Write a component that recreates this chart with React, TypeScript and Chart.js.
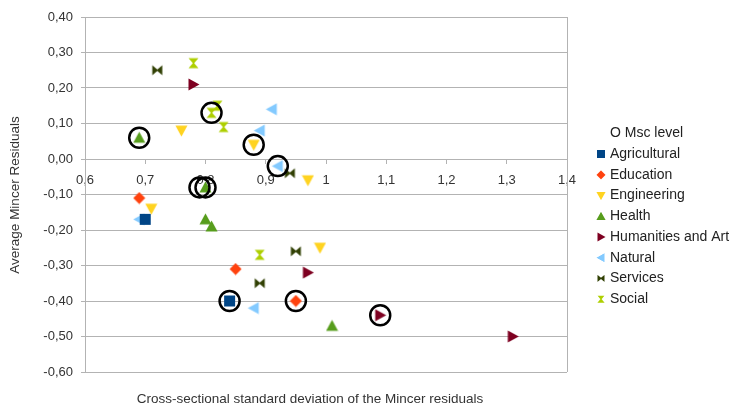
import React, { useEffect, useRef } from "react";
import { Chart, registerables } from "chart.js";

Chart.register(...registerables);

type P = { x: number; y: number };

const seriesNames = [
  "Agricultural",
  "Education",
  "Engineering",
  "Health",
  "Humanities and Art",
  "Natural",
  "Services",
  "Social",
];
const mscLabel = "O Msc level";

const agricultural: P[] = [
  { x: 0.7, y: -0.17 },
  { x: 0.84, y: -0.4 },
];
const education: P[] = [
  { x: 0.69, y: -0.11 },
  { x: 0.85, y: -0.31 },
  { x: 0.95, y: -0.4 },
];
const engineering: P[] = [
  { x: 0.76, y: 0.08 },
  { x: 0.71, y: -0.14 },
  { x: 0.88, y: 0.04 },
  { x: 0.97, y: -0.06 },
  { x: 0.99, y: -0.25 },
];
const health: P[] = [
  { x: 0.69, y: 0.06 },
  { x: 0.8, y: -0.08 },
  { x: 0.8, y: -0.17 },
  { x: 0.81, y: -0.19 },
  { x: 1.01, y: -0.47 },
];
const humanities: P[] = [
  { x: 0.78, y: 0.21 },
  { x: 0.97, y: -0.32 },
  { x: 1.09, y: -0.44 },
  { x: 1.31, y: -0.5 },
];
const natural: P[] = [
  { x: 0.91, y: 0.14 },
  { x: 0.89, y: 0.08 },
  { x: 0.92, y: -0.02 },
  { x: 0.69, y: -0.17 },
  { x: 0.88, y: -0.42 },
];
const services: P[] = [
  { x: 0.72, y: 0.25 },
  { x: 0.94, y: -0.04 },
  { x: 0.95, y: -0.26 },
  { x: 0.89, y: -0.35 },
];
const social: P[] = [
  { x: 0.78, y: 0.27 },
  { x: 0.82, y: 0.15 },
  { x: 0.81, y: 0.13 },
  { x: 0.83, y: 0.09 },
  { x: 0.89, y: -0.27 },
];
const mscLevel: P[] = [
  { x: 0.69, y: 0.06 },
  { x: 0.81, y: 0.13 },
  { x: 0.88, y: 0.04 },
  { x: 0.92, y: -0.02 },
  { x: 0.79, y: -0.08 },
  { x: 0.8, y: -0.08 },
  { x: 0.84, y: -0.4 },
  { x: 0.95, y: -0.4 },
  { x: 1.09, y: -0.44 },
];

const seriesData = [agricultural, education, engineering, health, humanities, natural, services, social];
const seriesColors = ["#004586", "#ff420e", "#ffd320", "#579d1c", "#7e0021", "#83caff", "#314004", "#aecf00"];
const seriesShapes = ["square", "diamond", "down", "up", "right", "left", "bowtie", "hourglass"];

const xTitle = "Cross-sectional standard deviation of the Mincer residuals";
const yTitle = "Average Mincer Residuals";

const FONT = "'Liberation Sans', Arial, sans-serif";

function makeMarker(shape: string, color: string, size: number, dpr: number): HTMLCanvasElement {
  const c = document.createElement("canvas");
  c.width = size * dpr;
  c.height = size * dpr;
  const ctx = c.getContext("2d")!;
  ctx.scale(dpr, dpr);
  ctx.fillStyle = color;
  const s = size;
  const a = 0.5;
  const b = s - 0.5;
  const m = s / 2;
  const poly = (pts: number[][]) => {
    ctx.beginPath();
    ctx.moveTo(pts[0][0], pts[0][1]);
    for (let i = 1; i < pts.length; i++) ctx.lineTo(pts[i][0], pts[i][1]);
    ctx.closePath();
    ctx.fill();
  };
  switch (shape) {
    case "square":
      ctx.fillRect(1, 1, s - 2, s - 2);
      break;
    case "diamond":
      poly([[m, a], [b, m], [m, b], [a, m]]);
      break;
    case "down":
      poly([[a, a + 1], [b, a + 1], [m, b]]);
      break;
    case "up":
      poly([[a, b - 1], [b, b - 1], [m, a]]);
      break;
    case "right":
      poly([[a + 1, a], [a + 1, b], [b, m]]);
      break;
    case "left":
      poly([[b - 1, a], [b - 1, b], [a, m]]);
      break;
    case "bowtie":
      poly([[a + 1, a + 1], [a + 1, b - 1], [m + 0.8, m]]);
      poly([[b - 1, a + 1], [b - 1, b - 1], [m - 0.8, m]]);
      break;
    case "hourglass":
      poly([[a + 1, a + 1], [b - 1, a + 1], [m, m + 0.8]]);
      poly([[a + 1, b - 1], [b - 1, b - 1], [m, m - 0.8]]);
      break;
  }
  return c;
}

function fmtY(v: number): string {
  return (Math.abs(v) < 1e-9 ? 0 : v).toFixed(2).replace(".", ",");
}
function fmtX(v: number): string {
  return String(parseFloat(v.toFixed(1))).replace(".", ",");
}

export default function App() {
  const ref = useRef<HTMLCanvasElement | null>(null);

  useEffect(() => {
    if (!ref.current) return;
    const pointMarkers = seriesShapes.map((s, i) => makeMarker(s, seriesColors[i], 13, 1));
    const legendMarkers = seriesShapes.map((s, i) => makeMarker(s, seriesColors[i], 10, 2));

    const datasets: any[] = [
      {
        label: mscLabel,
        data: mscLevel,
        pointStyle: "circle",
        pointRadius: 10,
        backgroundColor: "rgba(0,0,0,0)",
        borderColor: "#000000",
        borderWidth: 2.5,
        order: 0,
      },
      ...seriesNames.map((name, i) => ({
        label: name,
        data: seriesData[i],
        pointStyle: pointMarkers[i],
        pointRadius: 6,
        backgroundColor: seriesColors[i],
        borderColor: seriesColors[i],
        order: 1 + i,
      })),
    ];

    const customDraw = {
      id: "customDraw",
      afterDraw(chart: any) {
        const ctx = chart.ctx as CanvasRenderingContext2D;
        const ca = chart.chartArea;
        ctx.save();
        ctx.strokeStyle = "#b3b3b3";
        ctx.lineWidth = 1;
        ctx.beginPath();
        ctx.moveTo(Math.round(ca.right) + 0.5, ca.top);
        ctx.lineTo(Math.round(ca.right) + 0.5, ca.bottom);
        ctx.stroke();
        ctx.fillStyle = "#333333";
        ctx.font = "13.5px " + FONT;
        ctx.textAlign = "center";
        ctx.textBaseline = "middle";
        ctx.fillText(xTitle, 310, 399);
        ctx.save();
        ctx.translate(15, 195);
        ctx.rotate(-Math.PI / 2);
        ctx.fillText(yTitle, 0, 0);
        ctx.restore();
        ctx.textAlign = "left";
        ctx.fillStyle = "#222222";
        ctx.font = "14px " + FONT;
        const x0 = 610;
        const y0 = 133.5;
        const dy = 20.7;
        ctx.fillText(mscLabel, x0, y0);
        seriesNames.forEach((name, i) => {
          const y = y0 + dy * (i + 1);
          ctx.drawImage(legendMarkers[i], 596, y - 5, 10, 10);
          ctx.fillStyle = "#222222";
          ctx.fillText(name, x0, y);
        });
        ctx.restore();
      },
    };

    const chart = new Chart(ref.current, {
      type: "scatter",
      data: { datasets },
      options: {
        animation: false,
        responsive: false,
        events: [],
        layout: { padding: { left: 0, top: 17, right: 165, bottom: 34 } },
        plugins: {
          legend: { display: false },
          tooltip: { enabled: false },
        },
        scales: {
          x: {
            type: "linear",
            position: { y: 0 } as any,
            min: 0.6,
            max: 1.4,
            ticks: {
              stepSize: 0.1,
              color: "#333333",
              font: { family: FONT, size: 13 },
              padding: 10,
              maxRotation: 0,
              autoSkip: false,
              callback: (v: any) => fmtX(Number(v)),
            },
            grid: {
              display: true,
              drawOnChartArea: false,
              drawTicks: true,
              tickLength: 4,
              color: "#b3b3b3",
            },
            border: { display: true, color: "#b3b3b3" },
          },
          y: {
            type: "linear",
            min: -0.6,
            max: 0.4,
            afterFit: (scale: any) => {
              scale.width = 85;
            },
            ticks: {
              stepSize: 0.1,
              color: "#333333",
              font: { family: FONT, size: 13 },
              padding: 8,
              callback: (v: any) => fmtY(Number(v)),
            },
            grid: {
              color: "#b3b3b3",
              tickLength: 4,
              drawTicks: true,
            },
            border: { display: true, color: "#b3b3b3" },
          },
        },
      },
      plugins: [customDraw],
    });
    return () => chart.destroy();
  }, []);

  return (
    <div style={{ position: "absolute", left: 0, top: 0, width: 732, height: 406, background: "#ffffff" }}>
      <canvas ref={ref} width={732} height={406} style={{ width: 732, height: 406, display: "block" }} />
    </div>
  );
}
